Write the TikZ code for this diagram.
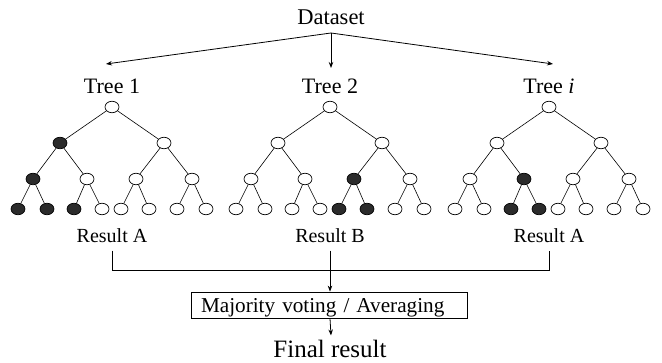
\documentclass[tikz,border=0pt]{standalone}
\usepackage{fontspec}
\setmainfont{Liberation Serif}
\usetikzlibrary{arrows.meta,shapes.geometric}

\makeatletter
% \rftree{prefix}{root x}{comma list of filled nodes}
% nodes are numbered heap-style: 1 root, 2-3, 4-7, 8-15 leaves
\newcommand\rftree[3]{%
  \foreach \i/\dx/\y in {1/0/107, 2/-52/143, 3/52/143,
      4/-79/179, 5/-25/179, 6/24/179, 7/80/179,
      8/-94/209, 9/-65/209, 10/-38/209, 11/-10/209,
      12/9/209, 13/37/209, 14/65/209, 15/94/209}{%
    \edef\rftest{\noexpand\in@{,\i,}{,#3,}}\rftest
    \ifin@\def\rffill{nodedark}\else\def\rffill{white}\fi
    \node[treenode, fill=\rffill] (#1\i) at (#2+\dx,\y) {};
  }%
  \foreach \p/\c in {1/2,1/3,2/4,2/5,3/6,3/7,4/8,4/9,5/10,5/11,6/12,6/13,7/14,7/15}{%
    \draw[treeedge] (#1\p) -- (#1\c);
  }%
}
\makeatother

\definecolor{nodedark}{HTML}{2B2B2B}

\begin{document}
\begin{tikzpicture}[x=1pt,y=-1pt,
  treenode/.style={shape=ellipse, draw=black, line width=0.7pt,
    minimum width=14pt, minimum height=11.5pt, inner sep=0pt},
  treeedge/.style={line width=0.6pt},
  link/.style={line width=0.8pt},
  arr/.style={line width=0.8pt, -{Stealth[length=6pt,width=4.5pt]}},
  lbl/.style={inner sep=0pt, font=\fontsize{22}{24}\selectfont},
  reslbl/.style={inner sep=0pt, font=\fontsize{20}{22}\selectfont}
]
\useasboundingbox (0,0) rectangle (662,363);

% source and the three trees
\node[lbl, font=\fontsize{22.5}{24}\selectfont] (ds) at (331,17.5) {Dataset};
\coordinate (fork) at (331,33);

\node[lbl] (t1) at (112,86) {Tree 1};
\node[lbl] (t2) at (330,86) {Tree 2};
\node[lbl] (t3) at (549,86) {Tree \textit{i}};

\coordinate (tip1) at (106,64);
\coordinate (tip2) at (331,68);
\coordinate (tip3) at (553,64);
\draw[arr] (fork) -- (tip1);
\draw[arr] (fork) -- (tip2);
\draw[arr] (fork) -- (tip3);

\rftree{a}{112}{2,4,8,9,10}
\rftree{b}{330}{6,12,13}
\rftree{c}{549}{5,10,11}

% results and aggregation (yshift is in page units, so negative goes down)
\node[reslbl] (rA) at (112,235.5) {Result A};
\node[reslbl] (rB) at (330,235.5) {Result B};
\node[reslbl] (rC) at (549,235.5) {Result A};

\coordinate (bar) at (0,270);
\draw[link] ([yshift=-8pt]rA.south) -- (rA.south |- bar) -- (rC.south |- bar)
  -- ([yshift=-8pt]rC.south);

\node[draw, line width=0.8pt, inner xsep=10pt, inner ysep=1pt,
  text width=256pt, text height=20pt, text depth=4pt, align=left,
  font=\fontsize{21.2}{23}\selectfont] (vote) at (329,305)
  {Majority voting / Averaging};
\draw[arr] ([yshift=-8pt]rB.south) -- ([xshift=1pt]vote.north);

\node[lbl, font=\fontsize{25}{27}\selectfont] (final) at (330,348.5) {Final result};
\draw[arr] ([xshift=1pt]vote.south) -- ([xshift=1pt,yshift=4pt]final.north);
\end{tikzpicture}
\end{document}
